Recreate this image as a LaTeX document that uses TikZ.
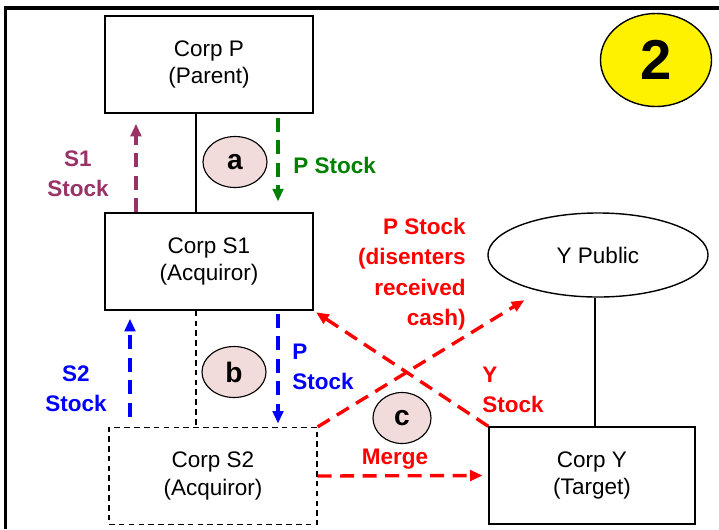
\documentclass[tikz,border=0pt]{standalone}
\usepackage{fontspec}
\setmainfont{Liberation Sans}
\usetikzlibrary{shapes.geometric, arrows.meta, positioning}
\definecolor{tagpink}{HTML}{F2DCDB}
\definecolor{plum}{HTML}{993366}
\definecolor{leaf}{HTML}{008000}
\newcommand\corpfont{\fontsize{16}{19.8}\selectfont}
\newcommand\lblfont{\fontsize{16}{21.6}\selectfont\bfseries}
\tikzset{
  >={Triangle[length=9pt,width=7.5pt]},
  corp/.style={draw, line width=1pt, minimum width=5.2cm, minimum height=2.425cm,
    align=center, inner sep=0pt, font=\corpfont},
  newco/.style={corp, line width=0.9pt, dash pattern=on 4pt off 3pt},
  tag/.style={ellipse, draw, line width=0.8pt, fill=tagpink, inner sep=0pt,
    minimum width=1.6cm, minimum height=1.275cm, font=\fontsize{20}{24}\selectfont\bfseries},
  flow/.style={->, line width=2.4pt, dash pattern=on 10pt off 6pt},
  lbl/.style={font=\lblfont, inner sep=0pt},
}

\begin{document}
\begin{tikzpicture}[x=0.025cm, y=-0.025cm]
  \useasboundingbox (0,0) rectangle (719,529);
  % frame
  \draw[line width=2.2pt] (5.5,529) -- (5.5,8) -- (719,8);

  % corporations
  \node[corp] (p) at (209,64.5) {Corp P\\(Parent)};
  \node[corp] (s1) at (209,261.5) {Corp S1\\(Acquiror)};
  \node[newco] (s2) at (213,476) {Corp S2\\(Acquiror)};
  \node[corp, minimum width=5.15cm] (y) at (592,475.5) {Corp Y\\(Target)};
  \node[ellipse, draw, line width=1pt, inner sep=0pt, minimum width=5.5cm,
    minimum height=2.1cm, font=\corpfont] (ypub) at (598,255) {Y Public};
  \node[ellipse, draw, line width=1pt, fill=yellow, inner sep=0pt, minimum width=2.775cm,
    minimum height=2.325cm, font=\fontsize{40}{44}\selectfont\bfseries] (num) at (656,60) {2};

  % ownership lines
  \draw[line width=1pt] ([xshift=-0.325cm]p.south) -- ([xshift=-0.325cm]s1.north);
  \draw[line width=0.9pt, dash pattern=on 4pt off 3pt] ([xshift=-0.325cm]s1.south) -- ([xshift=-0.325cm]s1.south |- s2.north);
  \draw[line width=1pt] ([xshift=-0.075cm]ypub.south) -- ([xshift=-0.075cm]ypub.south |- y.north);

  % steps
  \node[tag] (a) at (235,162) {a};
  \node[tag] (b) at (234,372) {b};
  \node[tag, minimum width=1.45cm] (c) at (402,418) {c};

  % step a
  \draw[flow, plum, shorten >=0.25cm] ([xshift=-1.825cm]s1.north) -- ([xshift=-1.825cm]p.south);
  \draw[flow, leaf, shorten <=0.1cm, shorten >=0.27cm] ([xshift=1.725cm]p.south) -- ([xshift=1.725cm]s1.north);
  \node[lbl, plum, align=center] (lblS1) at (78,174) {S1\\Stock};
  \node[lbl, leaf, anchor=west] (lblPa) at (293,165) {P Stock};

  % step b
  \draw[flow, blue, shorten <=0.25cm, shorten >=0.2cm] ([xshift=-1.975cm]s2.north -| s1.south) -- ([xshift=-1.975cm]s1.south);
  \draw[flow, blue, shorten <=0.08cm, shorten >=0.08cm] ([xshift=1.725cm]s1.south) -- ([xshift=1.725cm]s1.south |- s2.north);
  \node[lbl, blue, align=center] (lblS2) at (76,389) {S2\\Stock};
  \node[lbl, blue, align=left, anchor=west] (lblPb) at (292,367) {P\\Stock};

  % step c
  \draw[flow, red, shorten >=2pt] (y.north west) -- (s1.south east);
  \draw[flow, red, shorten >=0.43cm] (s2.north east) -- (ypub);
  \draw[flow, red, shorten >=4pt] (s2.east) -- (y.west);
  \node[lbl, red, align=right, anchor=east] (lblPc) at (466,274) {P Stock\\(disenters\\received\\cash)};
  \node[lbl, red, align=left, anchor=west] (lblY) at (482,390) {Y\\Stock};
  \node[lbl, red] (lblMerge) at (395,459) {Merge};
\end{tikzpicture}
\end{document}
